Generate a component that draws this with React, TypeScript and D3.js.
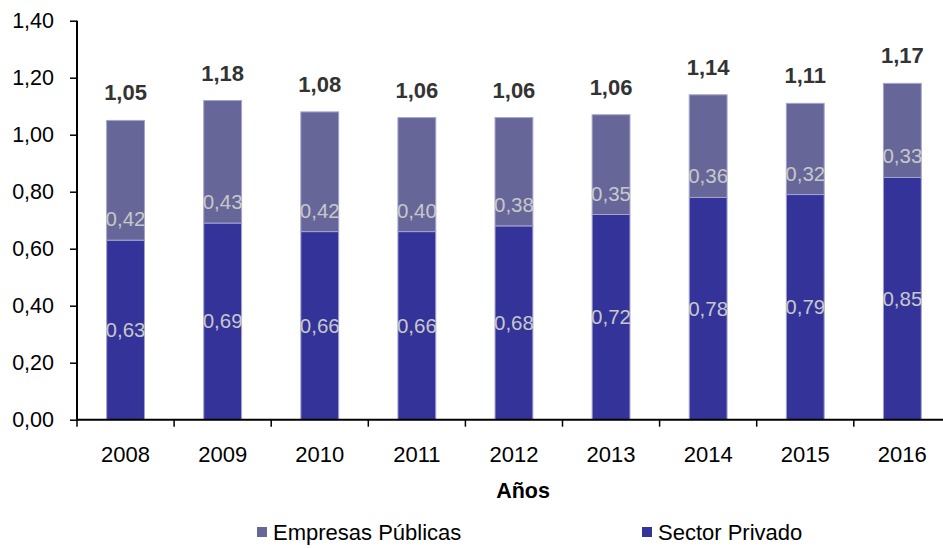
import { useEffect, useRef } from "react";
import * as d3 from "d3";

// ── Data ──────────────────────────────────────────────────────────────────────

const YEARS = ["2008", "2009", "2010", "2011", "2012", "2013", "2014", "2015", "2016"];
const SECTOR_PRIVADO    = [0.63, 0.69, 0.66, 0.66, 0.68, 0.72, 0.78, 0.79, 0.85];
const EMPRESAS_PUBLICAS = [0.42, 0.43, 0.42, 0.40, 0.38, 0.35, 0.36, 0.32, 0.33];
const TOTALES           = [1.05, 1.18, 1.08, 1.06, 1.06, 1.06, 1.14, 1.11, 1.17];
const Y_TICKS = [0, 0.2, 0.4, 0.6, 0.8, 1.0, 1.2, 1.4];

const SERIES = [
  { key: "privado", name: "Sector Privado", values: SECTOR_PRIVADO },
  { key: "publicas", name: "Empresas Públicas", values: EMPRESAS_PUBLICAS },
];

// ── Tokens ────────────────────────────────────────────────────────────────────

const C_PRIVADO = "#333399";
const C_PUBLICAS = "#666699";
const C_EDGE = "#a3a3cf";
const C_INNER = "#c8c8c8";
const C_TOTAL = "#333333";
const FONT = "'Liberation Sans', Arial, sans-serif";

const fmt = (v: number) => d3.format(".2f")(v).replace(".", ",");

export default function App() {
  const svgRef = useRef<SVGSVGElement>(null);

  useEffect(() => {
    if (!svgRef.current) return;

    const W = 943, H = 548;
    const left = 77, top = 20.7, bottom = 419.7;
    const step = 97.1;

    const svg = d3.select(svgRef.current);
    svg.selectAll("*").remove();
    svg.attr("viewBox", `0 0 ${W} ${H}`);

    const x = d3.scaleBand<string>()
      .domain(YEARS)
      .range([left, left + step * YEARS.length])
      .paddingInner(0.6)
      .paddingOuter(0.3);

    const y = d3.scaleLinear().domain([0, 1.4]).range([bottom, top]);

    const rows = YEARS.map((yr, i) => ({
      year: yr,
      privado: SECTOR_PRIVADO[i],
      publicas: EMPRESAS_PUBLICAS[i],
      total: TOTALES[i],
    }));

    const stacked = d3.stack<any>().keys(SERIES.map(s => s.key))(rows);
    const colors: Record<string, string> = { privado: C_PRIVADO, publicas: C_PUBLICAS };

    // Bars
    stacked.forEach(layer => {
      svg.append("g")
        .selectAll("rect")
        .data(layer)
        .join("rect")
        .attr("x", d => x(d.data.year)! + 0.5)
        .attr("y", d => y(d[1]))
        .attr("width", x.bandwidth() - 1)
        .attr("height", d => y(d[0]) - y(d[1]))
        .attr("fill", colors[layer.key])
        .attr("stroke", C_EDGE)
        .attr("stroke-width", 1);
    });

    // Segment labels
    const [lPriv, lPub] = stacked;
    svg.append("g")
      .selectAll("text")
      .data(lPriv)
      .join("text")
      .attr("x", d => x(d.data.year)! + x.bandwidth() / 2)
      .attr("y", d => (y(d[0]) + y(d[1])) / 2 + 7)
      .attr("text-anchor", "middle")
      .attr("fill", C_INNER)
      .attr("font-size", "20.5px")
      .attr("font-family", FONT)
      .text(d => fmt(d.data.privado));

    svg.append("g")
      .selectAll("text")
      .data(lPub)
      .join("text")
      .attr("x", d => x(d.data.year)! + x.bandwidth() / 2)
      .attr("y", d => y(d[0]) - 14)
      .attr("text-anchor", "middle")
      .attr("fill", C_INNER)
      .attr("font-size", "20.5px")
      .attr("font-family", FONT)
      .text(d => fmt(d.data.publicas));

    // Total labels
    svg.append("g")
      .selectAll("text")
      .data(lPub)
      .join("text")
      .attr("x", d => x(d.data.year)! + x.bandwidth() / 2)
      .attr("y", d => y(d[1]) - 20)
      .attr("text-anchor", "middle")
      .attr("fill", C_TOTAL)
      .attr("font-size", "22px")
      .attr("font-weight", "bold")
      .attr("font-family", FONT)
      .text(d => fmt(d.data.total));

    // Y axis
    const yAxis = svg.append("g").attr("transform", `translate(${left},0)`);
    yAxis.call(d3.axisLeft(y).tickValues(Y_TICKS).tickSize(7).tickPadding(16).tickFormat(d => fmt(+d)))
      .call(g => g.select(".domain").remove())
      .call(g => g.selectAll("line").attr("stroke", "#000").attr("stroke-width", 1.5))
      .call(g => g.selectAll("text")
        .attr("fill", "#000")
        .attr("font-size", "21.5px")
        .attr("font-family", FONT));
    yAxis.append("line")
      .attr("x1", 0).attr("x2", 0)
      .attr("y1", top).attr("y2", bottom)
      .attr("stroke", "#000").attr("stroke-width", 2);

    // X axis
    const xAxis = svg.append("g").attr("transform", `translate(0,${bottom})`);
    xAxis.append("line")
      .attr("x1", left).attr("x2", left + step * YEARS.length)
      .attr("stroke", "#000").attr("stroke-width", 2);
    const bounds = d3.range(YEARS.length + 1).map(i => left + i * x.step());
    xAxis.selectAll(".xt")
      .data(bounds)
      .join("line")
      .attr("class", "xt")
      .attr("x1", d => d).attr("x2", d => d)
      .attr("y1", 0).attr("y2", 7)
      .attr("stroke", "#000").attr("stroke-width", 1.5);
    xAxis.selectAll(".xl")
      .data(YEARS)
      .join("text")
      .attr("class", "xl")
      .attr("x", d => x(d)! + x.bandwidth() / 2)
      .attr("y", 42.6)
      .attr("text-anchor", "middle")
      .attr("fill", "#000")
      .attr("font-size", "22px")
      .attr("font-family", FONT)
      .text(d => d);

    // Axis title
    svg.append("text")
      .attr("x", 523).attr("y", 497.5)
      .attr("text-anchor", "middle")
      .attr("fill", "#000")
      .attr("font-size", "21.5px")
      .attr("font-weight", "bold")
      .attr("font-family", FONT)
      .text("Años");

    // Legend
    const legend = [
      { name: "Empresas Públicas", color: C_PUBLICAS, x: 257 },
      { name: "Sector Privado", color: C_PRIVADO, x: 642 },
    ];
    const lg = svg.append("g");
    legend.forEach(l => {
      lg.append("rect")
        .attr("x", l.x).attr("y", 527)
        .attr("width", 10).attr("height", 10)
        .attr("fill", l.color);
      lg.append("text")
        .attr("x", l.x + 16).attr("y", 540)
        .attr("fill", "#000")
        .attr("font-size", "22px")
        .attr("font-family", FONT)
        .text(l.name);
    });
  }, []);

  return (
    <svg
      ref={svgRef}
      width={943}
      height={548}
      style={{ position: "absolute", left: 0, top: 0, background: "#fff" }}
    />
  );
}
